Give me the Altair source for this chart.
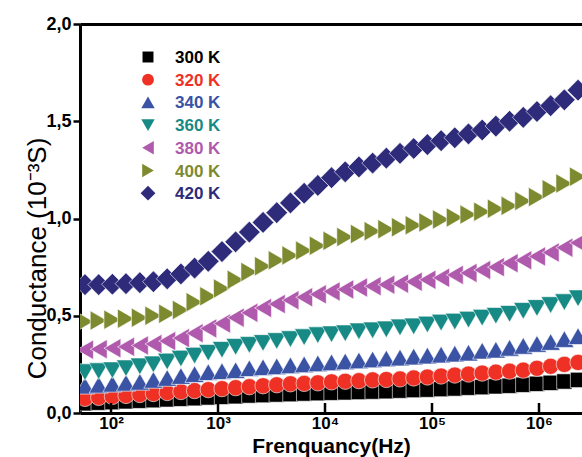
import altair as alt
import pandas as pd

FONT = "Liberation Sans"

# Measurement frequencies (Hz)
freq_hz = [57.1, 76.7, 103, 138, 186, 249, 335, 450, 604, 811, 1089, 1462,
           1963, 2636, 3540, 4753, 6383, 8570, 11508, 15453, 20749, 27861,
           37411, 50234, 67453, 90573, 121619, 163305, 219280, 294442,
           395367, 530884, 712853, 957194, 1285287, 1725838, 2317395]

# Conductance (10^-3 S) at each temperature
g300 = [0.05, 0.053, 0.056, 0.06, 0.063, 0.066, 0.07, 0.073, 0.076, 0.08,
        0.083, 0.086, 0.09, 0.092, 0.095, 0.097, 0.10, 0.102, 0.104, 0.106,
        0.108, 0.11, 0.112, 0.115, 0.118, 0.12, 0.123, 0.126, 0.13, 0.133,
        0.137, 0.14, 0.145, 0.15, 0.155, 0.162, 0.17]
g320 = [0.075, 0.08, 0.085, 0.09, 0.095, 0.10, 0.105, 0.11, 0.115, 0.12,
        0.125, 0.13, 0.135, 0.14, 0.145, 0.15, 0.152, 0.155, 0.16, 0.163,
        0.166, 0.17, 0.172, 0.175, 0.18, 0.185, 0.19, 0.195, 0.20, 0.205,
        0.21, 0.215, 0.22, 0.23, 0.24, 0.25, 0.26]
g340 = [0.14, 0.145, 0.15, 0.155, 0.16, 0.17, 0.18, 0.19, 0.20, 0.21,
        0.215, 0.22, 0.23, 0.235, 0.24, 0.245, 0.25, 0.255, 0.26, 0.265,
        0.27, 0.275, 0.28, 0.285, 0.29, 0.295, 0.30, 0.305, 0.31, 0.32,
        0.325, 0.335, 0.345, 0.355, 0.365, 0.38, 0.395]
g360 = [0.21, 0.215, 0.22, 0.23, 0.24, 0.25, 0.265, 0.28, 0.295, 0.31,
        0.325, 0.34, 0.35, 0.36, 0.37, 0.38, 0.39, 0.40, 0.405, 0.41,
        0.42, 0.425, 0.43, 0.44, 0.445, 0.455, 0.465, 0.47, 0.48, 0.49,
        0.50, 0.51, 0.525, 0.54, 0.555, 0.57, 0.59]
g380 = [0.325, 0.328, 0.333, 0.34, 0.347, 0.355, 0.37, 0.385, 0.41, 0.435,
        0.46, 0.49, 0.515, 0.54, 0.56, 0.58, 0.595, 0.61, 0.625, 0.635,
        0.645, 0.652, 0.66, 0.665, 0.675, 0.685, 0.695, 0.71, 0.72, 0.735,
        0.75, 0.77, 0.785, 0.805, 0.825, 0.85, 0.875]
g400 = [0.47, 0.475, 0.48, 0.485, 0.49, 0.50, 0.51, 0.53, 0.57, 0.60,
        0.64, 0.685, 0.725, 0.755, 0.785, 0.81, 0.835, 0.86, 0.885, 0.905,
        0.92, 0.935, 0.945, 0.955, 0.965, 0.98, 0.995, 1.005, 1.02, 1.035,
        1.05, 1.065, 1.09, 1.11, 1.15, 1.18, 1.215]
g420 = [0.66, 0.66, 0.662, 0.665, 0.67, 0.675, 0.69, 0.715, 0.745, 0.78,
        0.83, 0.88, 0.93, 0.98, 1.03, 1.08, 1.13, 1.17, 1.21, 1.24,
        1.265, 1.285, 1.31, 1.335, 1.36, 1.38, 1.40, 1.415, 1.435, 1.455,
        1.475, 1.50, 1.52, 1.55, 1.58, 1.61, 1.66]

temps = ["300 K", "320 K", "340 K", "360 K", "380 K", "400 K", "420 K"]
series = [g300, g320, g340, g360, g380, g400, g420]
colors = ["#000000", "#ee3124", "#3a53a4", "#178a85", "#b05aad", "#7e8a30", "#2e2b7a"]
shapes = ["square", "circle", "triangle-up", "triangle-down",
          "triangle-left", "triangle-right", "diamond"]
sizes = [235, 265, 370, 370, 380, 380, 470]
legend_sizes = [120, 140, 180, 180, 180, 180, 220]

decades = [1e2, 1e3, 1e4, 1e5, 1e6]
y_ticks = [0.0, 0.5, 1.0, 1.5, 2.0]

PLOT_W, PLOT_H = 502, 389

rows = []
for t, vals in zip(temps, series):
    for f, v in zip(freq_hz, vals):
        rows.append({"T": t, "f": f, "G": v})
df = pd.DataFrame(rows)

xscale = alt.Scale(type="log", domain=[51.3, 2523000], nice=False)
yscale = alt.Scale(domain=[0, 2], nice=False, zero=False)

x_bottom = alt.Axis(
    orient="bottom", values=decades, grid=False,
    labelExpr="'10' + substring('⁰¹²³⁴⁵⁶⁷⁸⁹', round(log(datum.value)/LN10), round(log(datum.value)/LN10) + 1)",
    ticks=False, tickSize=0, labelPadding=2, labelFont=FONT, labelFontSize=17,
    labelFontWeight="bold", labelColor="black", labelFlush=False, labelOverlap=False,
    domainWidth=3, domainColor="black",
    titleFont=FONT, titleFontSize=21, titleFontWeight="bold", titleColor="black",
    titleY=39, titleBaseline="alphabetic",
)
y_left = alt.Axis(
    orient="left", values=y_ticks, grid=False,
    labelExpr="replace(format(datum.value, '.1f'), '.', ',')",
    tickSize=7, tickWidth=2.5, tickColor="black", labelPadding=2,
    labelFont=FONT, labelFontSize=18, labelFontWeight="bold", labelColor="black",
    domainWidth=3, domainColor="black",
    titleFont=FONT, titleFontSize=26, titleFontWeight="normal", titleColor="black",
    titleAngle=270, titleX=-35, titleY=234, titleAlign="center",
    titleBaseline="alphabetic",
)

points = alt.Chart(df).mark_point(
    filled=True, opacity=1, clip=True, stroke="white", strokeWidth=0.6
).encode(
    x=alt.X("f:Q", scale=xscale, axis=x_bottom, title="Frenquancy(Hz)"),
    y=alt.Y("G:Q", scale=yscale, axis=y_left, title="Conductance (10⁻³S)"),
    color=alt.Color("T:N", scale=alt.Scale(domain=temps, range=colors), legend=None),
    shape=alt.Shape("T:N", scale=alt.Scale(domain=temps, range=shapes), legend=None),
    size=alt.Size("T:N", scale=alt.Scale(type="ordinal", domain=temps, range=sizes), legend=None),
)

# inward decade ticks on the frequency axis, plus the top frame line
tick_marks = alt.Chart(pd.DataFrame({"f": decades})).mark_rule(
    color="black", strokeWidth=2.5
).encode(
    x=alt.X("f:Q", scale=xscale, axis=alt.Axis(
        orient="top", labels=False, ticks=False, grid=False, title=None,
        domainWidth=3, domainColor="black")),
    y=alt.value(PLOT_H),
    y2=alt.value(PLOT_H - 10),
)

layers = [points, tick_marks]

# legend drawn as symbols plus coloured labels
for r, t in enumerate(temps):
    row_df = pd.DataFrame({"T": [t]})
    ypos = 33 + 22.7 * r
    sym = alt.Chart(row_df).mark_point(
        filled=True, opacity=1, shape=shapes[r], color=colors[r],
        size=legend_sizes[r]
    ).encode(x=alt.value(68), y=alt.value(ypos))
    lab = alt.Chart(row_df).mark_text(
        align="left", baseline="middle", font=FONT, fontSize=17,
        fontWeight="bold", color=colors[r]
    ).encode(x=alt.value(95), y=alt.value(ypos + 1), text="T:N")
    layers += [sym, lab]

chart = alt.layer(*layers).properties(
    width=PLOT_W, height=PLOT_H,
    autosize=alt.AutoSizeParams(type="none"),
    padding={"left": 80, "top": 24, "right": 0, "bottom": 44},
).configure_view(stroke=None).configure(background="white")

chart.save("out.html", embed_options={"renderer": "svg", "actions": False})
